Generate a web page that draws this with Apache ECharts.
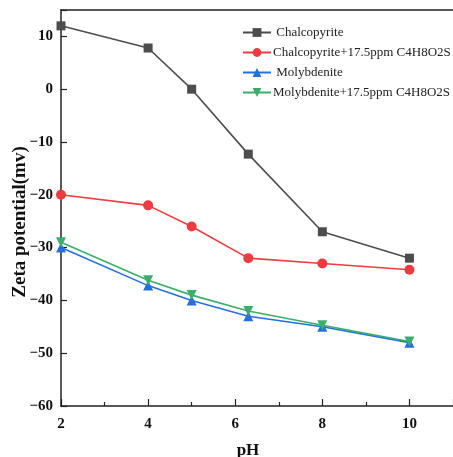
<!DOCTYPE html>
<html>
<head>
<meta charset="utf-8">
<script src="https://cdn.jsdelivr.net/npm/echarts@6/dist/echarts.min.js"></script>
<style>
  html, body { margin: 0; padding: 0; background: #fff; }
  #chart { width: 453px; height: 457px; }
</style>
</head>
<body>
<div id="chart"></div>
<script>
// -- data --
const phValues = [2, 4, 5, 6.3, 8, 10];
const chalcopyrite = [12, 7.8, 0, -12.3, -27, -32];
const chalcopyriteReagent = [-20, -22, -26, -32, -33, -34.2];
const molybdenite = [-30, -37.2, -40, -43, -45, -48];
const molybdeniteReagent = [-29, -36.2, -39, -42, -44.7, -47.8];

const seriesNames = [
  ' Chalcopyrite',
  'Chalcopyrite+17.5ppm C4H8O2S',
  ' Molybdenite',
  'Molybdenite+17.5ppm C4H8O2S'
];

const FONT = '"Liberation Serif", "Times New Roman", serif';

const pairs = ys => phValues.map((x, i) => [x, ys[i]]);

function lineSeries(name, ys, color, symbol, size) {
  return {
    name,
    type: 'line',
    data: pairs(ys),
    symbol,
    symbolSize: size,
    lineStyle: { color, width: 1.6 },
    itemStyle: { color },
    clip: false,
    z: 3
  };
}

const chart = echarts.init(document.getElementById('chart'), null, { renderer: 'canvas' });

chart.setOption({
  animation: false,
  backgroundColor: '#fff',
  grid: { left: 61, top: 10, right: 0, bottom: 51, containLabel: false, outerBoundsMode: 'none' },
  legend: {
    orient: 'vertical',
    left: 237,
    top: 21,
    itemWidth: 28,
    itemHeight: 11,
    itemGap: 7,
    textStyle: { fontFamily: FONT, fontSize: 13, color: '#222', padding: [0, 0, 0, -3] },
    data: seriesNames
  },
  xAxis: [{
    type: 'value',
    min: 2,
    max: 11,
    interval: 2,
    name: 'pH',
    nameLocation: 'middle',
    nameGap: 36,
    nameMoveOverlap: false,
    nameTextStyle: { fontFamily: FONT, fontSize: 17, fontWeight: 'bold', color: '#111', padding: [0, 18, 0, 0] },
    axisLine: { onZero: false, lineStyle: { color: '#222', width: 1.5 } },
    axisTick: { inside: true, length: 7, lineStyle: { color: '#222', width: 1.2 } },
    minorTick: { show: true, splitNumber: 2, length: 4, lineStyle: { color: '#222', width: 1.2 } },
    axisLabel: {
      fontFamily: FONT, fontSize: 15, fontWeight: 'bold', color: '#111', margin: 11,
      formatter: v => (v > 10 ? '' : v)
    },
    splitLine: { show: false }
  }, {
    type: 'value',
    position: 'top',
    min: 2,
    max: 11,
    axisLine: { onZero: false, lineStyle: { color: '#222', width: 1.5 } },
    axisTick: { show: false },
    axisLabel: { show: false },
    splitLine: { show: false }
  }],
  yAxis: {
    type: 'value',
    min: -60,
    max: 15,
    interval: 10,
    name: 'Zeta potential(mv)',
    nameLocation: 'middle',
    nameGap: 31,
    nameMoveOverlap: false,
    nameTextStyle: { fontFamily: FONT, fontSize: 19, fontWeight: 'bold', color: '#111', padding: [0, 28, 0, 0] },
    axisLine: { show: true, onZero: false, lineStyle: { color: '#222', width: 1.5 } },
    axisTick: { inside: true, length: 6, lineStyle: { color: '#222', width: 1.2 } },
    axisLabel: {
      fontFamily: FONT, fontSize: 15, fontWeight: 'bold', color: '#111', margin: 8,
      formatter: v => (v > 10 ? '' : String(v).replace('-', '\u2212'))
    },
    splitLine: { show: false }
  },
  series: [
    lineSeries(seriesNames[0], chalcopyrite, '#4d4d4d', 'rect', 9),
    lineSeries(seriesNames[1], chalcopyriteReagent, '#ee3b3f', 'circle', 10),
    lineSeries(seriesNames[2], molybdenite, '#2470dc', 'triangle', 10),
    Object.assign(lineSeries(seriesNames[3], molybdeniteReagent, '#3aae6a', 'triangle', 10), { symbolRotate: 180 })
  ]
});
</script>
</body>
</html>
